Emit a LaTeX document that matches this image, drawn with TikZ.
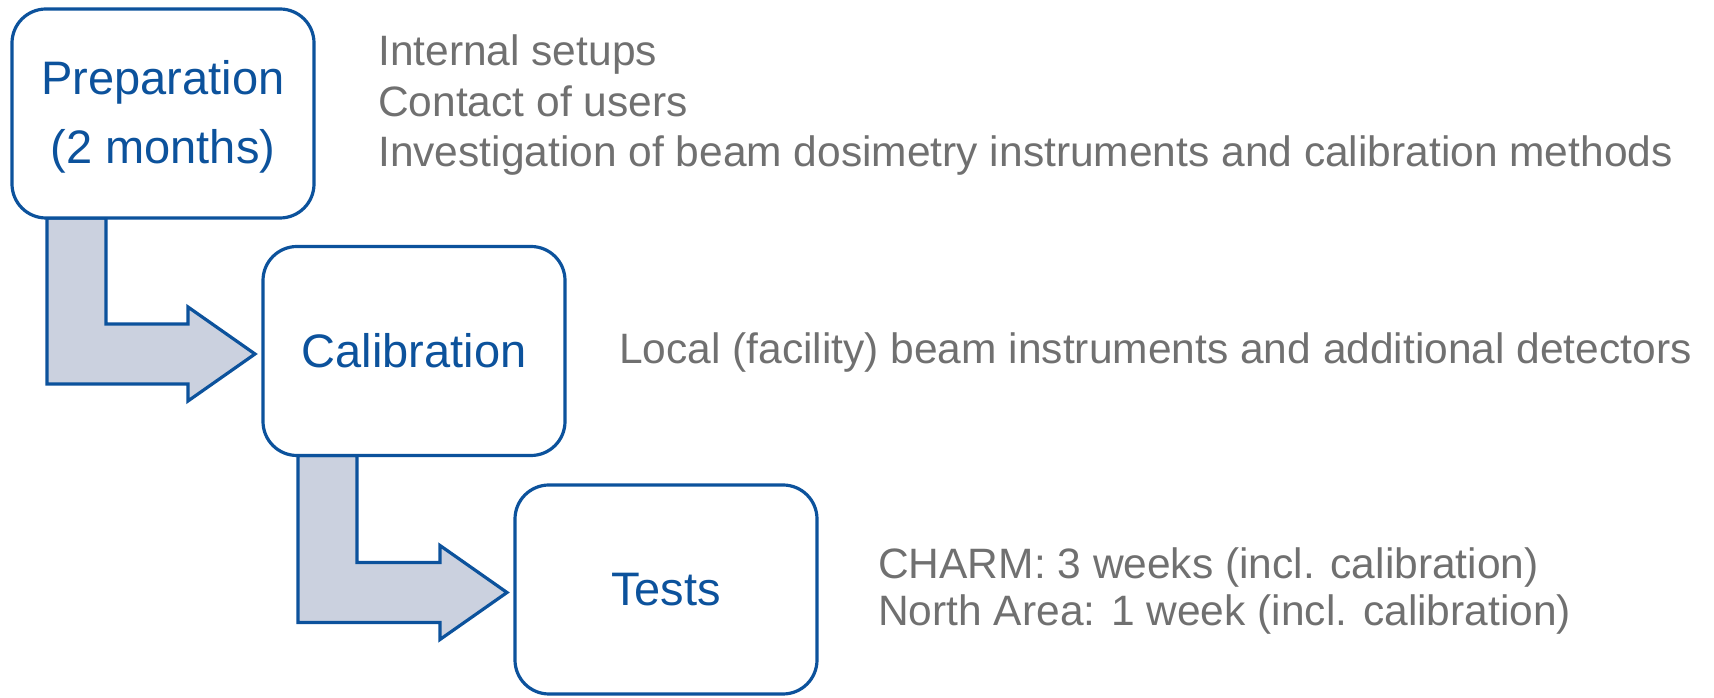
\documentclass[tikz,border=0pt]{standalone}
\usepackage{fontspec}
\setmainfont{Liberation Sans}
\usetikzlibrary{calc,backgrounds}
\definecolor{stepblue}{RGB}{12,82,156}
\definecolor{arrowfill}{RGB}{203,209,223}
\definecolor{notegray}{RGB}{112,112,112}

% Bent block arrow from the bottom of one stage box to the left side of the next
\newcommand{\bentflow}[2]{%
  \draw[bent] let \p1=(#1.south west), \p2=(#2.west) in
    (\x1+35pt,\y1) -- (\x1+94pt,\y1) -- (\x1+94pt,\y2+27pt)
    -- (\x2-75pt,\y2+27pt) -- (\x2-75pt,\y2+44pt) -- (\x2-8pt,\y2-3pt)
    -- (\x2-75pt,\y2-50pt) -- (\x2-75pt,\y2-33pt) -- (\x1+35pt,\y2-33pt) -- cycle;}

\begin{document}
\begin{tikzpicture}[x=1pt,y=1pt,
  stagebox/.style={draw=stepblue, line width=3.2pt, rounded corners=34pt, fill=white,
    minimum width=302pt, minimum height=209pt, inner sep=0pt, outer sep=0pt,
    text=stepblue, font=\fontsize{47}{69}\selectfont, align=center},
  note/.style={anchor=base west, inner sep=0pt, text=notegray,
    font=\fontsize{42.5}{51}\selectfont},
  bent/.style={draw=stepblue, line width=3.2pt, fill=arrowfill, line join=miter}]
\useasboundingbox (0,0) rectangle (1714,698);

% stages
\node[stagebox, text height=110pt] (prep) at (163,584.5) {Preparation\\(2 months)};
\node[stagebox] (calib) at (414,347) {Calibration};
\node[stagebox] (tests) at (666,108.5) {Tests};

% flow arrows behind the boxes
\begin{pgfonlayer}{background}
  \bentflow{prep}{calib}
  \bentflow{calib}{tests}
\end{pgfonlayer}

% notes
\node[note] (prepA) at (378,632) {Internal setups};
\node[note] (prepB) at (378,581) {Contact of users};
\node[note] (prepC) at (378,531) {Investigation of beam dosimetry instruments and calibration methods};
\node[note] (calibA) at (619,334) {Local (facility) beam instruments and additional detectors};
\node[note] (testsA) at (878,119) {CHARM: 3 weeks (incl. calibration)};
\node[note] (testsB) at (878,72) {North Area: 1 week (incl. calibration)};
\end{tikzpicture}
\end{document}
